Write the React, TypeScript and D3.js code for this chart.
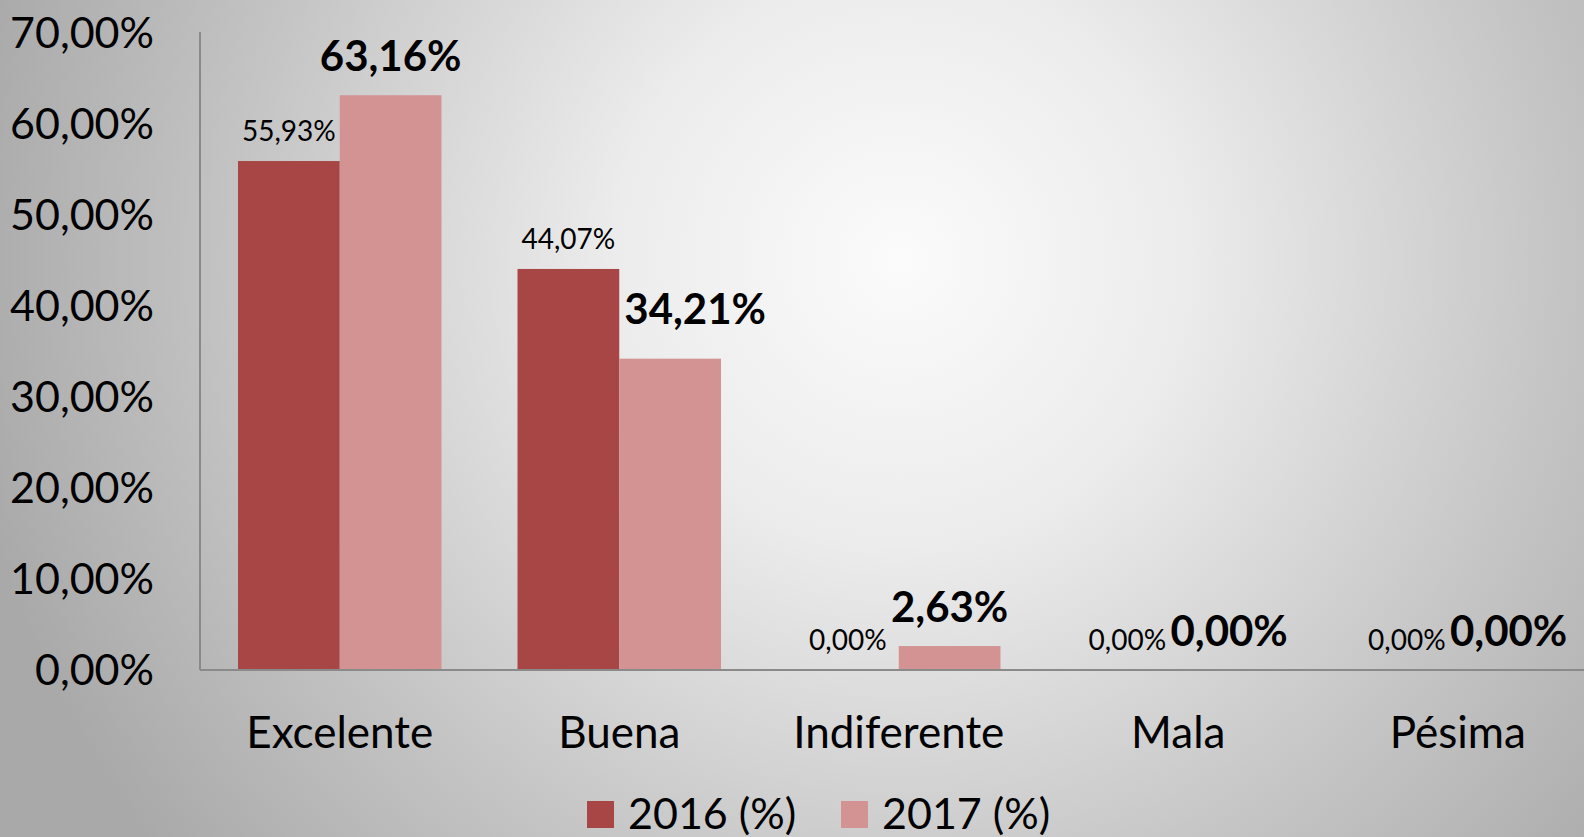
import * as d3 from "d3";
import { useEffect } from "react";

const categories = ["Excelente", "Buena", "Indiferente", "Mala", "Pésima"];
const series = ["2016 (%)", "2017 (%)"];
const values2016 = [55.93, 44.07, 0, 0, 0];
const values2017 = [63.16, 34.21, 2.63, 0, 0];
const yTicks = [0, 10, 20, 30, 40, 50, 60, 70];
const colors = ["#a84646", "#d49393"];

const W = 1584;
const H = 837;
const FONT = "Lato, 'Open Sans', sans-serif";

const fmt = (v: number) => v.toFixed(2).replace(".", ",") + "%";

const App = () => {
  useEffect(() => {
    document.body.style.margin = "0";
  }, []);

  // plot area
  const left = 200, top = 33, bottom = 670;
  const bandW = 279.5;
  const x = d3.scaleBand<string>()
    .domain(categories)
    .range([left, left + bandW * categories.length])
    .paddingInner(0.272)
    .paddingOuter(0.136);
  const inner = d3.scaleBand<number>().domain([0, 1]).range([0, x.bandwidth()]);
  const y = d3.scaleLinear().domain([0, 70]).range([bottom, top]);

  // the 2017 label over "Buena" was dragged a bit in the original
  const shift2017: Record<string, [number, number]> = { Buena: [25, -11] };

  return (
    <svg width={W} height={H} style={{ display: "block" }} fontFamily={FONT}>
      <defs>
        <radialGradient id="bg" gradientUnits="userSpaceOnUse" cx={900} cy={260} r={950}>
          <stop offset="0" stopColor="#fbfbfb" />
          <stop offset="0.3" stopColor="#ececec" />
          <stop offset="0.7" stopColor="#c4c4c4" />
          <stop offset="1" stopColor="#a9a9a9" />
        </radialGradient>
      </defs>
      <rect x={0} y={0} width={W} height={H} fill="url(#bg)" />

      {/* y tick labels */}
      {yTicks.map((t) => (
        <text key={t} x={154} y={y(t)} dy="0.36em" textAnchor="end" fontSize={43} fill="#000">
          {fmt(t)}
        </text>
      ))}

      {/* bars */}
      {categories.map((c, i) => (
        <g key={c}>
          {[values2016[i], values2017[i]].map((v, s) => (
            <rect
              key={s}
              x={(x(c) as number) + (inner(s) as number)}
              y={y(v)}
              width={inner.bandwidth()}
              height={bottom - y(v)}
              fill={colors[s]}
            />
          ))}
        </g>
      ))}

      {/* axes */}
      <line x1={left} x2={left} y1={top - 1} y2={bottom} stroke="#8a8a8a" strokeWidth={2} />
      <line x1={left} x2={W} y1={bottom} y2={bottom} stroke="#8a8a8a" strokeWidth={2} />

      {/* data labels */}
      {categories.map((c, i) => {
        const cx0 = (x(c) as number) + (inner(0) as number) + inner.bandwidth() / 2;
        const cx1 = (x(c) as number) + (inner(1) as number) + inner.bandwidth() / 2;
        const [dx, dy] = shift2017[c] || [0, 0];
        return (
          <g key={c}>
            <text x={cx0} y={y(values2016[i]) - 20} textAnchor="middle" fontSize={28} fill="#000">
              {fmt(values2016[i])}
            </text>
            <text x={cx1 + dx} y={y(values2017[i]) - 24 + dy} textAnchor="middle" fontSize={42} fontWeight="bold" fill="#000">
              {fmt(values2017[i])}
            </text>
          </g>
        );
      })}

      {/* category labels */}
      {categories.map((c) => (
        <text key={c} x={(x(c) as number) + x.bandwidth() / 2} y={748} textAnchor="middle" fontSize={44} fill="#000">
          {c}
        </text>
      ))}

      {/* legend */}
      {series.map((s, i) => (
        <g key={s} transform={`translate(${587 + i * 254},801)`}>
          <rect x={0} y={0} width={27} height={27} fill={colors[i]} />
          <text x={41} y={28} fontSize={43} fill="#000">{s}</text>
        </g>
      ))}
    </svg>
  );
};

export default App;
